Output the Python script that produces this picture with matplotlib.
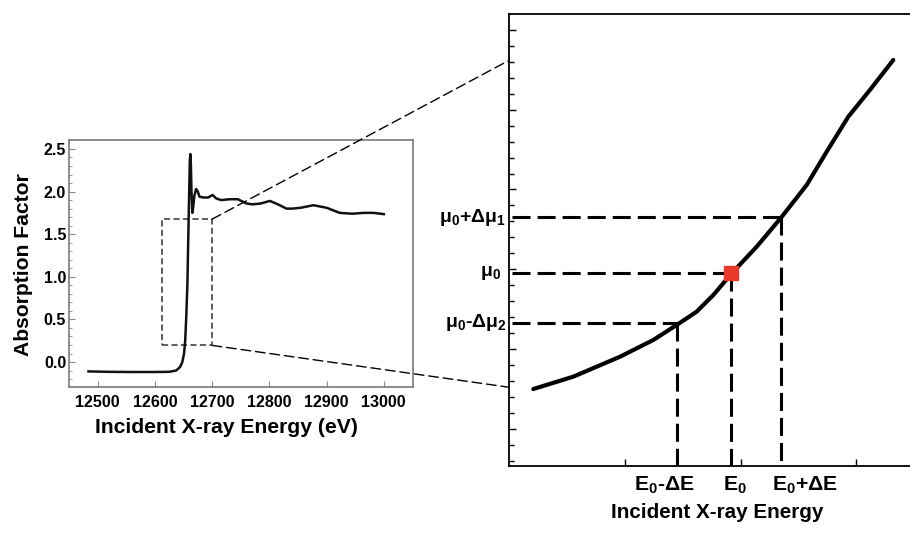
import matplotlib
matplotlib.use("Agg")
import matplotlib.pyplot as plt
from matplotlib.patches import Rectangle, ConnectionPatch

plt.rcParams['font.family'] = ['Liberation Sans', 'DejaVu Sans']
plt.rcParams['font.weight'] = 'bold'
plt.rcParams['mathtext.fontset'] = 'custom'
plt.rcParams['mathtext.rm'] = 'Liberation Sans:bold'
plt.rcParams['mathtext.it'] = 'Liberation Sans:bold'
plt.rcParams['mathtext.bf'] = 'Liberation Sans:bold'

# ---------------- data: left panel (XANES spectrum) ----------------
energy_ev = [12484, 12520, 12560, 12600, 12625, 12637, 12644, 12648, 12651, 12653,
             12655, 12657, 12658.5, 12660, 12661, 12662, 12663, 12664, 12665.5, 12667,
             12669, 12672, 12675, 12678, 12685, 12693, 12701, 12707, 12716, 12731,
             12745, 12760, 12771, 12785, 12801, 12815, 12830, 12840, 12855, 12877,
             12900, 12923, 12945, 12965, 12982, 13000]
absorption = [-0.11, -0.115, -0.117, -0.117, -0.115, -0.10, -0.06, 0.0, 0.10, 0.25,
              0.55, 0.95, 1.50, 2.00, 2.35, 2.44, 2.30, 2.00, 1.75, 1.82,
              1.95, 2.03, 2.00, 1.94, 1.93, 1.93, 1.96, 1.92, 1.90, 1.91,
              1.91, 1.86, 1.85, 1.86, 1.89, 1.85, 1.80, 1.80, 1.81, 1.84,
              1.81, 1.75, 1.74, 1.75, 1.75, 1.735]
left_xticks = [12500, 12600, 12700, 12800, 12900, 13000]
left_yticks = [0.0, 0.5, 1.0, 1.5, 2.0, 2.5]
zoom_x = (12613, 12700)
zoom_y = (0.195, 1.676)

# ---------------- data: right panel (zoomed edge, schematic units) ----------------
zoom_e = [0.2075, 0.553, 0.957, 1.245, 1.447, 1.620, 1.764, 1.923, 2.139, 2.352,
          2.571, 2.744, 2.931, 3.118, 3.320]
zoom_mu = [1.498, 1.653, 1.903, 2.113, 2.301, 2.468, 2.677, 2.949, 3.283, 3.651,
           4.056, 4.474, 4.913, 5.248, 5.624]
zoom_target_y = (1.52, 5.62)
E_levels = [1.447, 1.917, 2.352]            # E0-dE, E0, E0+dE
mu_levels = [2.330, 2.957, 3.651]           # mu0-dmu2, mu0, mu0+dmu1
E_labels = ['E$_0$-ΔE', 'E$_0$', 'E$_0$+ΔE']
E_label_x = [1.337, 1.949, 2.554]
mu_labels = ['μ$_0$-Δμ$_2$', 'μ$_0$', 'μ$_0$+Δμ$_1$']
mu_label_offset_px = [-2, -8, -3]
right_xticks = [1, 2, 3]
right_yticks_major = [1, 2, 3, 4, 5, 6]
right_yticks_minor = [0.6 + 0.2 * i for i in range(28)]

W, H = 910, 535
fig = plt.figure(figsize=(W / 100, H / 100), dpi=100)

def rect(l, t, r, b):
    return [l / W, 1 - b / H, (r - l) / W, (b - t) / H]

# ---------------- left panel ----------------
axL = fig.add_axes(rect(69, 140, 413, 387))
axL.plot(energy_ev, absorption, color='#111111', lw=1.8, solid_joinstyle='round')
axL.set_xlim(12450, 13051)
axL.set_ylim(-0.293, 2.605)
axL.set_xticks(left_xticks)
axL.set_xticklabels([str(v) for v in left_xticks])
axL.set_yticks(left_yticks)
axL.set_yticklabels([f'{v:.1f}' for v in left_yticks])
axL.set_yticks([i / 10 - 0.2 for i in range(29)], minor=True)
axL.tick_params(axis='both', which='both', direction='in', color='#888888', labelsize=11.5)
axL.tick_params(axis='x', which='major', length=4, pad=6)
axL.tick_params(axis='y', which='major', length=4, pad=2)
axL.tick_params(axis='y', which='minor', length=2)
for s in axL.spines.values():
    s.set_color('#7a7a7a')
    s.set_linewidth(1.2)
axL.add_patch(Rectangle((zoom_x[0], zoom_y[0]), zoom_x[1] - zoom_x[0], zoom_y[1] - zoom_y[0],
                        fill=False, ec='#333333', lw=1.1, ls=(0, (4, 2.2))))
fig.text(24 / W, 1 - 265 / H, 'Absorption Factor', rotation=90, ha='center', va='center',
         fontsize=15.2, fontweight='bold')
fig.text(226.7 / W, 1 - 427.7 / H, 'Incident X-ray Energy (eV)', ha='center', va='center',
         fontsize=15.2, fontweight='bold')

# ---------------- right panel ----------------
axR = fig.add_axes(rect(509.3, 14, 912, 466))
axR.set_xlim(0, (912 - 509.3) / 115.67)
axR.set_ylim(0.533, 6.2)
axR.plot(zoom_e, zoom_mu, color='black', lw=3.0, solid_capstyle='round', solid_joinstyle='round')
dash = (0, (5.9, 2.3))
for e, m in zip(E_levels, mu_levels):
    axR.plot([0.02, e], [m, m], color='black', lw=2.2, ls=dash)
    axR.plot([e, e], [m, 0.533], color='black', lw=2.2, ls=dash)
axR.plot([E_levels[1]], [mu_levels[1]], marker='s', ms=10, color='#e8392c', mec='#e8392c',
         zorder=5, ls='none')
axR.spines['right'].set_visible(False)
for s in ['left', 'top', 'bottom']:
    axR.spines[s].set_linewidth(1.3)
axR.set_xticks(right_xticks)
axR.set_xticklabels([])
axR.set_yticks(right_yticks_major)
axR.set_yticks(right_yticks_minor, minor=True)
axR.set_yticklabels([])
axR.tick_params(axis='both', which='major', direction='in', length=5, width=1.0)
axR.tick_params(axis='y', which='minor', direction='in', length=3.5, width=1.0)

for lab, x in zip(E_labels, E_label_x):
    axR.annotate(lab, xy=(x, 0), xycoords=('data', 'axes fraction'), xytext=(0, -19 * 0.72),
                 textcoords='offset points', ha='center', va='center', fontsize=15.2,
                 fontweight='bold')
for lab, m, off in zip(mu_labels, mu_levels, mu_label_offset_px):
    axR.annotate(lab, xy=(0, m), xycoords=('axes fraction', 'data'), xytext=(off * 0.72, 0),
                 textcoords='offset points', ha='right', va='center', fontsize=14,
                 fontweight='bold')
axR.annotate('Incident X-ray Energy', xy=(1.793, 0), xycoords=('data', 'axes fraction'),
             xytext=(0, -46 * 0.72), textcoords='offset points', ha='center', va='center',
             fontsize=14.9, fontweight='bold')

# ---------------- connectors ----------------
for yl, yr in zip([zoom_y[1], zoom_y[0]], [zoom_target_y[1], zoom_target_y[0]]):
    con = ConnectionPatch(xyA=(zoom_x[1], yl), coordsA=axL.transData,
                          xyB=(0, yr), coordsB=axR.transData,
                          color='black', lw=1.0, ls=(0, (7, 3.5)))
    fig.add_artist(con)

fig.savefig('out.png', dpi=100)
